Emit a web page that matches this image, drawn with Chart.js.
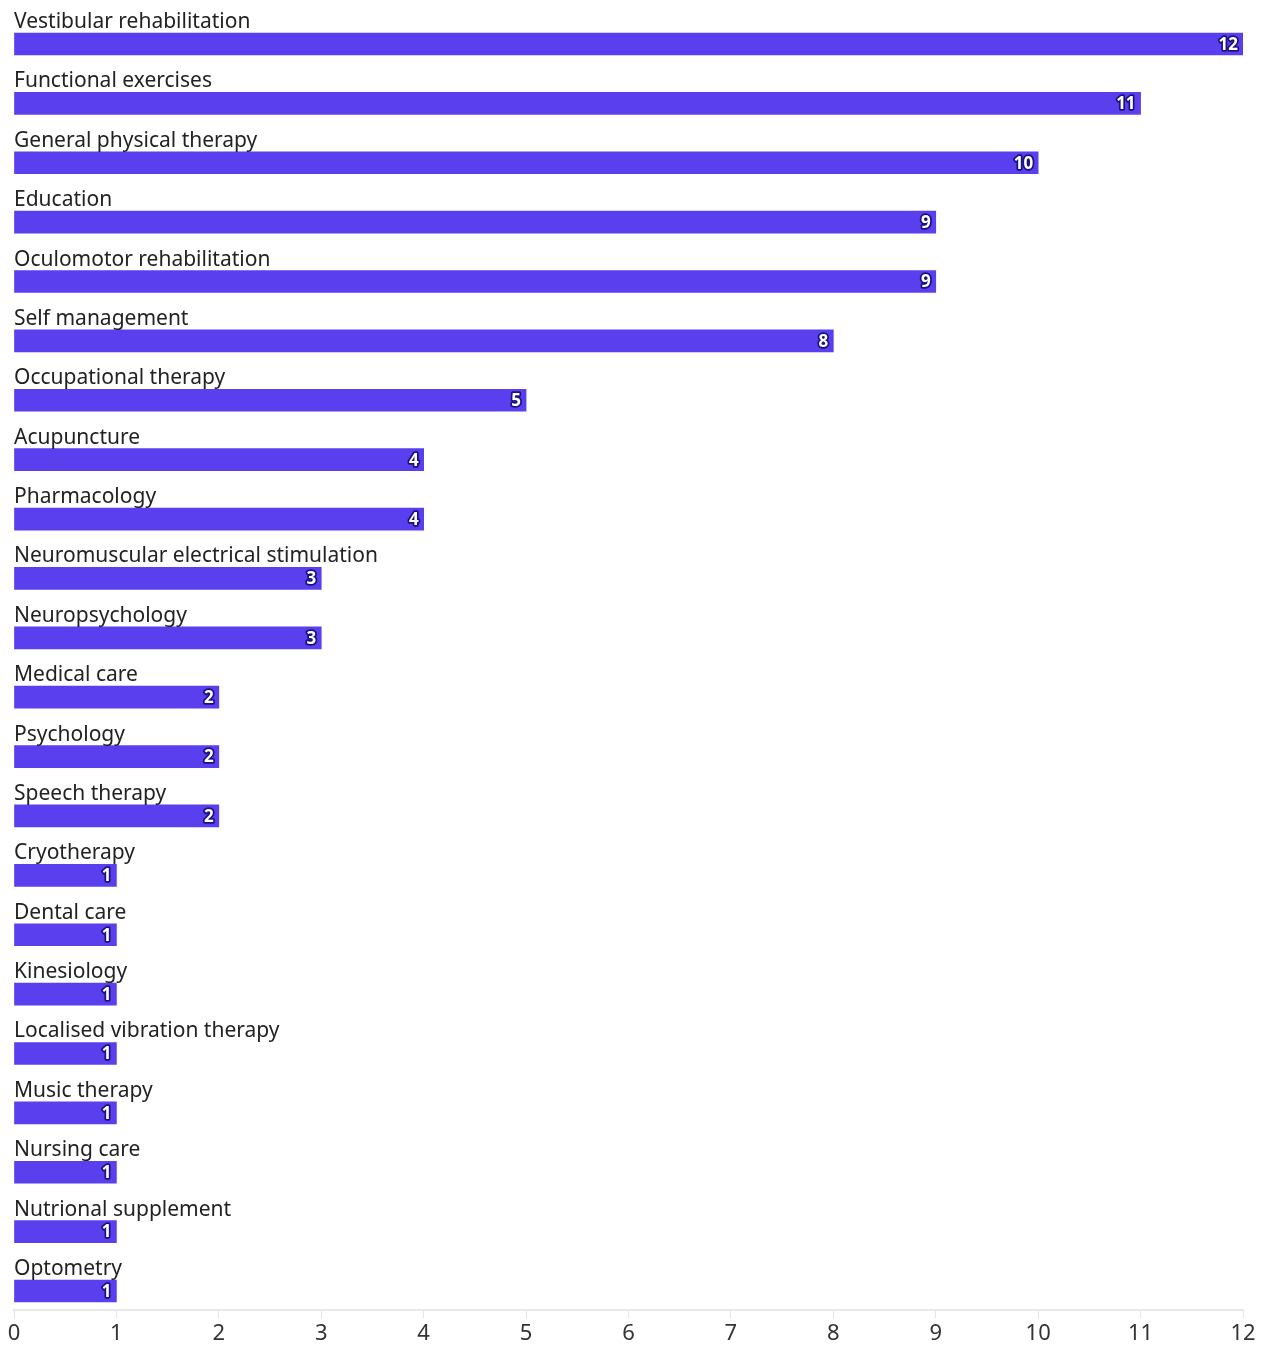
<!DOCTYPE html>
<html>
<head>
<meta charset="utf-8">
<script src="https://cdn.jsdelivr.net/npm/chart.js@4"></script>
<style>
  html, body { margin: 0; padding: 0; background: #fff; }
  #wrap { width: 1266px; height: 1345px; }
</style>
</head>
<body>
<div id="wrap"><canvas id="chart" width="1266" height="1345"></canvas></div>
<script>
const categories = [
  'Vestibular rehabilitation', 'Functional exercises', 'General physical therapy',
  'Education', 'Oculomotor rehabilitation', 'Self management', 'Occupational therapy',
  'Acupuncture', 'Pharmacology', 'Neuromuscular electrical stimulation',
  'Neuropsychology', 'Medical care', 'Psychology', 'Speech therapy', 'Cryotherapy',
  'Dental care', 'Kinesiology', 'Localised vibration therapy', 'Music therapy',
  'Nursing care', 'Nutrional supplement', 'Optometry'
];
const counts = [12, 11, 10, 9, 9, 8, 5, 4, 4, 3, 3, 2, 2, 2, 1, 1, 1, 1, 1, 1, 1, 1];
const xTicks = [0, 1, 2, 3, 4, 5, 6, 7, 8, 9, 10, 11, 12];

const BAR_COLOR = '#5a3fee';
const FONT = '"Noto Sans", sans-serif';

// category names above each bar, values at the bar end
const barText = {
  id: 'barText',
  afterDatasetsDraw(chart) {
    const c = chart.ctx;
    const meta = chart.getDatasetMeta(0);
    const left = chart.chartArea.left;
    meta.data.forEach((bar, i) => {
      c.save();
      c.font = '21px ' + FONT;
      c.fillStyle = '#222';
      c.textAlign = 'left';
      c.textBaseline = 'alphabetic';
      c.fillText(categories[i], left, bar.y - 16);

      c.font = 'bold 17px ' + FONT;
      c.textAlign = 'right';
      c.textBaseline = 'middle';
      c.lineJoin = 'round';
      c.lineWidth = 3.5;
      c.strokeStyle = '#1a1180';
      c.strokeText(String(counts[i]), bar.x - 5, bar.y + 1);
      c.fillStyle = '#fff';
      c.fillText(String(counts[i]), bar.x - 5, bar.y + 1);
      c.restore();
    });
  }
};

new Chart(document.getElementById('chart'), {
  type: 'bar',
  data: {
    datasets: [{
      data: counts.map((v, i) => ({ x: v, y: i })),
      backgroundColor: BAR_COLOR,
      borderWidth: 0,
      barThickness: 22
    }]
  },
  options: {
    indexAxis: 'y',
    responsive: false,
    animation: false,
    layout: { padding: { left: 14, right: 23, top: 0, bottom: 0 } },
    plugins: { legend: { display: false }, tooltip: { enabled: false } },
    scales: {
      y: {
        type: 'linear',
        display: false,
        offset: false,
        reverse: true,
        min: -0.741,
        max: 21.32
      },
      x: {
        type: 'linear',
        min: 0,
        max: 12,
        afterBuildTicks: (axis) => { axis.ticks = xTicks.map(v => ({ value: v })); },
        afterFit: (axis) => { axis.height = 35; },
        grid: { drawOnChartArea: false, drawTicks: true, tickLength: 8, color: '#e4e4e4' },
        border: { color: '#e8e8e8', width: 2 },
        ticks: {
          padding: 4,
          maxRotation: 0,
          color: '#333',
          font: { family: FONT, size: 22, lineHeight: 1.05 }
        }
      }
    }
  },
  plugins: [barText]
});
</script>
</body>
</html>
